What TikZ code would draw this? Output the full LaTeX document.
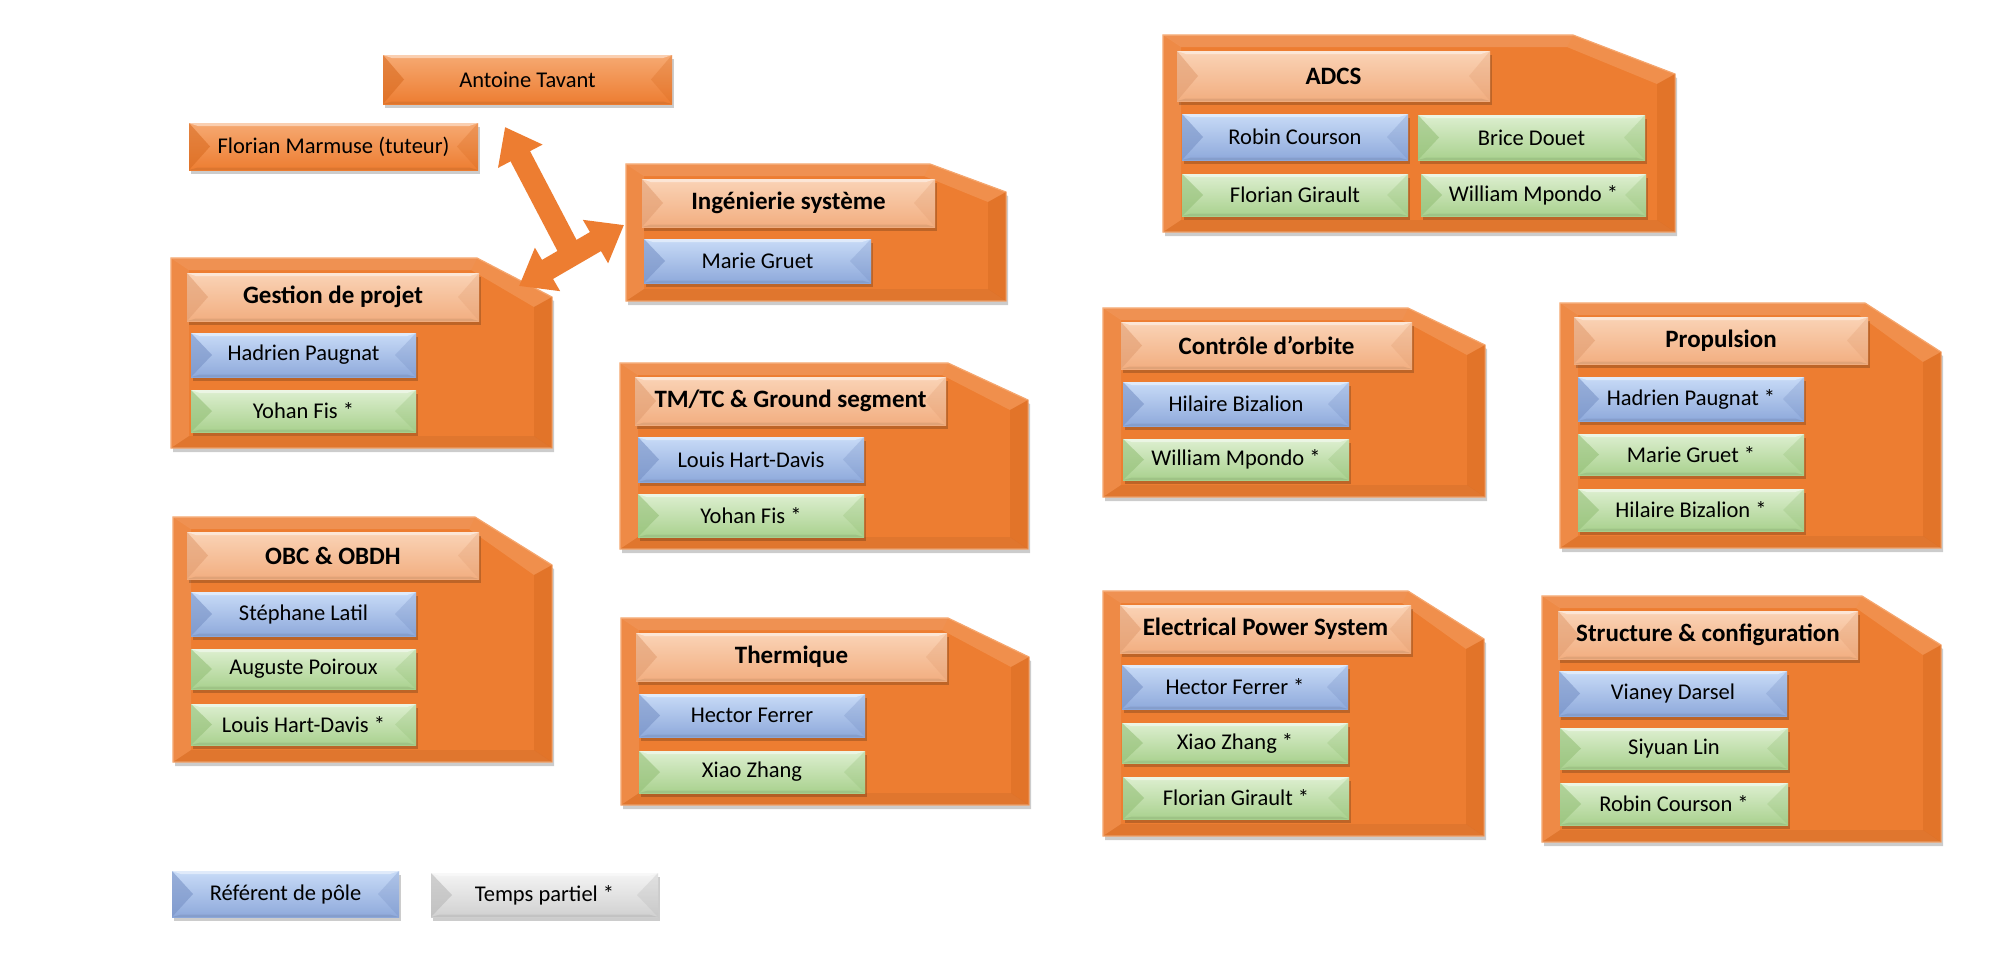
\documentclass[tikz,border=0pt]{standalone}
\usepackage{fontspec}
\setmainfont{Carlito}
\usetikzlibrary{arrows.meta,shadows}
\definecolor{grp}{HTML}{ED7D31}
\definecolor{grpdark}{HTML}{D2671F}
\definecolor{grplight}{HTML}{F5A66E}
\definecolor{orbase}{HTML}{ED7D31}
\definecolor{ortop}{HTML}{F6A972}
\definecolor{orleft}{HTML}{D96C22}
\definecolor{hdbase}{HTML}{F2AE80}
\definecolor{hdtop}{HTML}{FAD3B6}
\definecolor{hdleft}{HTML}{E29E72}
\definecolor{blbase}{HTML}{8EA9DB}
\definecolor{bltop}{HTML}{C8DBF7}
\definecolor{blleft}{HTML}{7892C6}
\definecolor{grbase}{HTML}{A9D18E}
\definecolor{grtop}{HTML}{DDEFD0}
\definecolor{grleft}{HTML}{95C078}
\definecolor{gybase}{HTML}{D0D0D0}
\definecolor{gytop}{HTML}{F4F4F4}
\definecolor{gyleft}{HTML}{B8B8B8}
\def\ppb{path picture bounding box}
\tikzset{
  every node/.style={font=\fontsize{22.5pt}{27pt}\selectfont, inner sep=0pt, outer sep=0pt, text=black},
  bev/.style n args={3}{fill=#1,
    drop shadow={shadow xshift=1.5pt, shadow yshift=-3.5pt, fill=black, opacity=0.2},
    path picture={
      \shade[top color=#2, bottom color=#1] (\ppb.south west) rectangle (\ppb.north east);
      \fill[#3, opacity=.6] (\ppb.north west) -- ([xshift=21pt]\ppb.west) -- (\ppb.south west) -- cycle;
      \fill[#3, opacity=.3] (\ppb.north east) -- ([xshift=-21pt]\ppb.east) -- (\ppb.south east) -- cycle;
      \fill[white, opacity=.45] (\ppb.north west) -- (\ppb.north east) -- ([xshift=-9pt,yshift=-3pt]\ppb.north east) -- ([xshift=9pt,yshift=-3pt]\ppb.north west) -- cycle;
      \fill[black, opacity=.07] (\ppb.south west) -- (\ppb.south east) -- ([xshift=-9pt,yshift=2.5pt]\ppb.south east) -- ([xshift=9pt,yshift=2.5pt]\ppb.south west) -- cycle;
    }},
  orbox/.style={bev={orbase}{ortop}{orleft}},
  hdbox/.style={bev={hdbase}{hdtop}{hdleft}, font=\fontsize{25pt}{30pt}\selectfont\bfseries},
  blbox/.style={bev={blbase}{bltop}{blleft}},
  grbox/.style={bev={grbase}{grtop}{grleft}},
  gybox/.style={bev={gybase}{gytop}{gyleft}},
  grpshape/.style={fill=grp, draw=grplight, line width=1.2pt,
    drop shadow={shadow xshift=2pt, shadow yshift=-4pt, fill=black, opacity=0.2}},
  bigarrow/.style={draw=grp, line width=22pt},
}
% box: style, name, x1, y1, x2, y2, text
\newcommand\mybox[7]{\node[#1, minimum width={(#5)-(#3)}, minimum height={(#6)-(#4)}] (#2) at ({((#3)+(#5))/2},{((#4)+(#6))/2}) {#7};}
% group: x1 y1 x2 y2 chamferx chamfery
\newcommand\grp[6]{%
  \path[grpshape] (#1,#2) -- (#5,#2) -- (#3,#6) -- (#3,#4) -- (#1,#4) -- cycle;
  \fill[white, opacity=.16] (#1,#2) -- (#5,#2) -- ({#5-6},{#2+12}) -- ({#1+18},{#2+12}) -- cycle;
  \fill[white, opacity=.10] (#1,#2) -- ({#1+18},{#2+12}) -- ({#1+18},{#4-12}) -- (#1,#4) -- cycle;
  \fill[grplight, opacity=.45] (#5,#2) -- (#3,#6) -- ({#3-18},{#6+10}) -- ({#5-6},{#2+12}) -- cycle;
  \fill[grpdark, opacity=.4] (#3,#6) -- (#3,#4) -- ({#3-18},{#4-12}) -- ({#3-18},{#6+10}) -- cycle;
  \fill[black, opacity=.05] (#1,#4) -- (#3,#4) -- ({#3-18},{#4-12}) -- ({#1+18},{#4-12}) -- cycle;
}
\begin{document}
\begin{tikzpicture}[x=1pt, y=-1pt]
\fill[white] (0,0) rectangle (1999,962);
\useasboundingbox (0,0) rectangle (1999,962);

% top persons
\mybox{orbox}{ant}{383}{55}{672}{104}{Antoine Tavant}
\mybox{orbox}{flo}{189}{123}{478}{170}{Florian Marmuse (tuteur)}

% Ingenierie systeme
\grp{626}{164}{1006}{301}{930}{192}
\mybox{hdbox}{ingh}{642}{179}{935}{227}{Ingénierie système}
\mybox{blbox}{ing1}{644}{239}{871}{283}{Marie Gruet}

% Gestion de projet
\grp{171}{258}{552}{448}{477}{297}
\mybox{hdbox}{gesh}{187}{273}{479}{321}{Gestion de projet}
\mybox{blbox}{ges1}{191}{333}{416}{377}{Hadrien Paugnat}
\mybox{grbox}{ges2}{191}{390}{416}{432}{Yohan Fis *}

% OBC
\grp{173}{517}{552}{762}{475}{565}
\mybox{hdbox}{obch}{187}{532}{479}{579}{OBC \& OBDH}
\mybox{blbox}{obc1}{191}{592}{416}{636}{Stéphane Latil}
\mybox{grbox}{obc2}{191}{649}{416}{689}{Auguste Poiroux}
\mybox{grbox}{obc3}{191}{704}{416}{745}{Louis Hart-Davis *}

% TM/TC
\grp{620}{363}{1028}{549}{948}{400}
\mybox{hdbox}{tmh}{635}{377}{946}{425}{TM/TC \& Ground segment}
\mybox{blbox}{tm1}{638}{437}{864}{482}{Louis Hart-Davis}
\mybox{grbox}{tm2}{638}{494}{864}{537}{Yohan Fis *}

% Thermique
\grp{621}{618}{1029}{805}{948}{657}
\mybox{hdbox}{thh}{636}{633}{947}{681}{Thermique}
\mybox{blbox}{th1}{639}{694}{865}{737}{Hector Ferrer}
\mybox{grbox}{th2}{639}{751}{865}{793}{Xiao Zhang}

% ADCS
\grp{1163}{35}{1675}{232}{1573}{74}
\mybox{hdbox}{adh}{1177}{51}{1490}{101}{ADCS}
\mybox{blbox}{ad1}{1182}{114}{1408}{160}{Robin Courson}
\mybox{grbox}{ad2}{1418}{115}{1645}{160}{Brice Douet}
\mybox{grbox}{ad3}{1182}{174}{1408}{216}{Florian Girault}
\mybox{grbox}{ad4}{1421}{174}{1646}{216}{William Mpondo *}

% Controle d'orbite
\grp{1103}{308}{1485}{497}{1408}{345}
\mybox{hdbox}{coh}{1121}{322}{1412}{369}{Contrôle d’orbite}
\mybox{blbox}{co1}{1123}{382}{1349}{426}{Hilaire Bizalion}
\mybox{grbox}{co2}{1123}{439}{1349}{480}{William Mpondo *}

% EPS
\grp{1103}{591}{1484}{836}{1408}{639}
\mybox{hdbox}{eph}{1120}{605}{1411}{653}{Electrical Power System}
\mybox{blbox}{ep1}{1122}{665}{1348}{709}{Hector Ferrer *}
\mybox{grbox}{ep2}{1122}{723}{1348}{763}{Xiao Zhang *}
\mybox{grbox}{ep3}{1123}{777}{1349}{819}{Florian Girault *}

% Propulsion
\grp{1560}{303}{1941}{548}{1865}{352}
\mybox{hdbox}{prh}{1574}{317}{1868}{364}{Propulsion}
\mybox{blbox}{pr1}{1578}{377}{1804}{421}{Hadrien Paugnat *}
\mybox{grbox}{pr2}{1578}{434}{1804}{475}{Marie Gruet *}
\mybox{grbox}{pr3}{1578}{489}{1804}{531}{Hilaire Bizalion *}

% Structure
\grp{1542}{596}{1941}{842}{1862}{645}
\mybox{hdbox}{sth}{1558}{611}{1858}{659}{Structure \& configuration}
\mybox{blbox}{st1}{1559}{671}{1787}{716}{Vianey Darsel}
\mybox{grbox}{st2}{1560}{728}{1788}{769}{Siyuan Lin}
\mybox{grbox}{st3}{1560}{783}{1788}{825}{Robin Courson *}

% legend
\mybox{blbox}{lg1}{172}{871}{399}{917}{Référent de pôle}
\mybox{gybox}{lg2}{431}{873}{658}{917}{Temps partiel *}

% three-way arrow
\coordinate (tipT) at (505,127);
\coordinate (tipL) at (519,286);
\coordinate (tipR) at (624,225);
\coordinate (jn) at (572,255);
\draw[bigarrow, -{Triangle[width=48pt,length=33pt]}] (jn) -- (tipT);
\draw[bigarrow, {Triangle[width=48pt,length=33pt]}-{Triangle[width=48pt,length=33pt]}] (tipL) -- (tipR);
\end{tikzpicture}
\end{document}
